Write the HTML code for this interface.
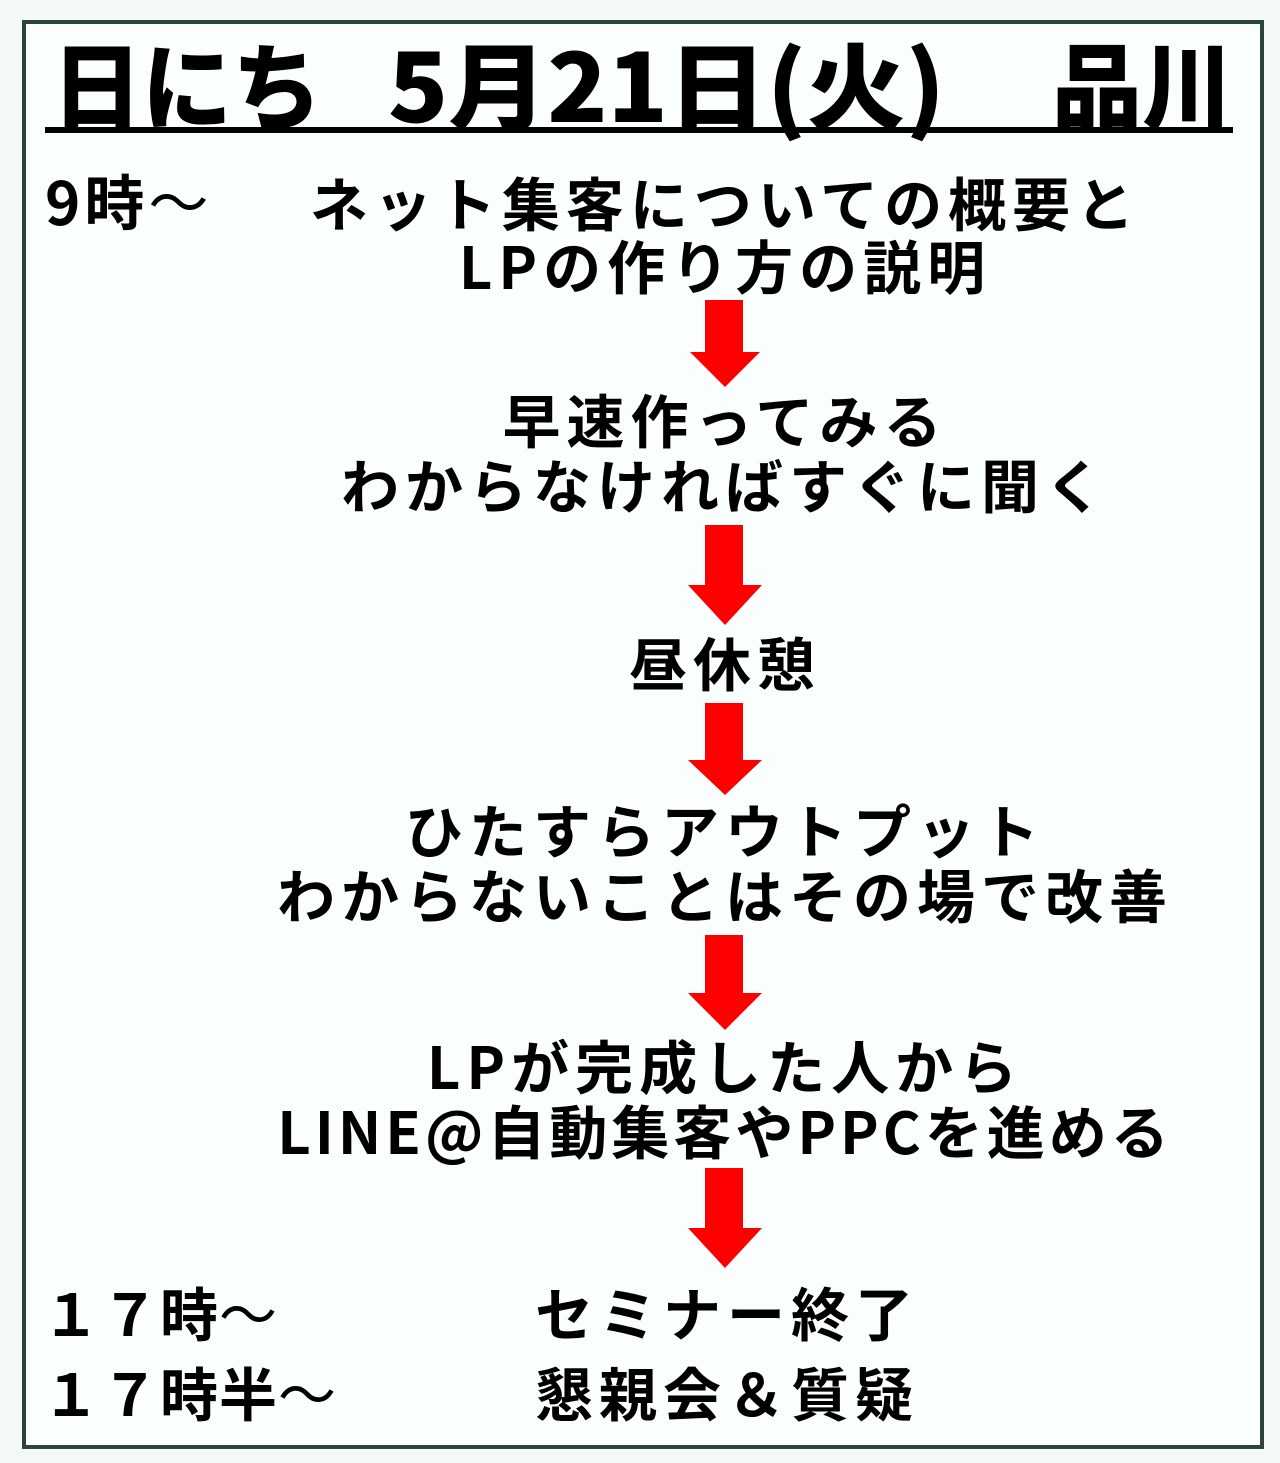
<!DOCTYPE html>
<html><head><meta charset="utf-8"><style>
html,body{margin:0;padding:0;}
body{width:1280px;height:1463px;background:#f3f9f9;position:relative;overflow:hidden;font-family:"Noto Sans CJK JP","Liberation Sans",sans-serif;font-weight:bold;color:#000;}
.box{position:absolute;left:22px;top:20px;width:1234px;height:1421px;border:4px solid #2b4538;background:#fbfefe;}
.t{position:absolute;white-space:nowrap;line-height:60px;font-size:58px;letter-spacing:6px;}
.c{left:225px;width:1000px;text-align:center;}
.h{position:absolute;white-space:nowrap;font-size:90px;line-height:90px;top:34px;font-weight:900;transform-origin:left top;transform:scaleY(1.05);}
</style></head><body>
<div class="box"></div>
<div class="h" style="left:52px;">日にち</div>
<div class="h" style="left:388px;transform:scaleX(1.1) scaleY(1.05);">5月21日(火)</div>
<div class="h" style="left:1052px;">品川</div>
<div style="position:absolute;left:45px;top:127px;width:1188px;height:6px;background:#000"></div>

<div class="t" style="left:45px;top:170px;letter-spacing:4px;font-size:60px;">9時<span style="font-weight:normal">〜</span></div>
<div class="t c" style="top:171px;">ネット集客についての概要と</div>
<div class="t c" style="top:234px;">LPの作り方の説明</div>
<div class="t c" style="top:388px;">早速作ってみる</div>
<div class="t c" style="top:453px;">わからなければすぐに聞く</div>
<div class="t c" style="top:631px;">昼休憩</div>
<div class="t c" style="top:798px;">ひたすらアウトプット</div>
<div class="t c" style="top:863px;">わからないことはその場で改善</div>
<div class="t c" style="top:1034px;">LPが完成した人から</div>
<div class="t c" style="top:1099px;letter-spacing:4px;">LINE@自動集客やPPCを進める</div>
<div class="t" style="left:42px;top:1281px;letter-spacing:1px;">１７時<span style="font-weight:normal">〜</span></div>
<div class="t" style="left:535px;top:1281px;">セミナー終了</div>
<div class="t" style="left:42px;top:1361px;letter-spacing:1px;">１７時半<span style="font-weight:normal">〜</span></div>
<div class="t" style="left:535px;top:1361px;">懇親会＆質疑</div>

<svg style="position:absolute;left:0;top:0" width="1280" height="1463">
<g fill="#f00">
<polygon points="705,300 743,300 743,352 760,352 725,387 690,352 705,352"/>
<polygon points="705,525 743,525 743,585 762,585 725,625 688,585 705,585"/>
<polygon points="705,703 743,703 743,760 762,760 725,795 688,760 705,760"/>
<polygon points="705,935 743,935 743,993 762,993 725,1030 688,993 705,993"/>
<polygon points="705,1168 743,1168 743,1228 762,1228 725,1268 688,1228 705,1228"/>
</g></svg>
</body></html>
